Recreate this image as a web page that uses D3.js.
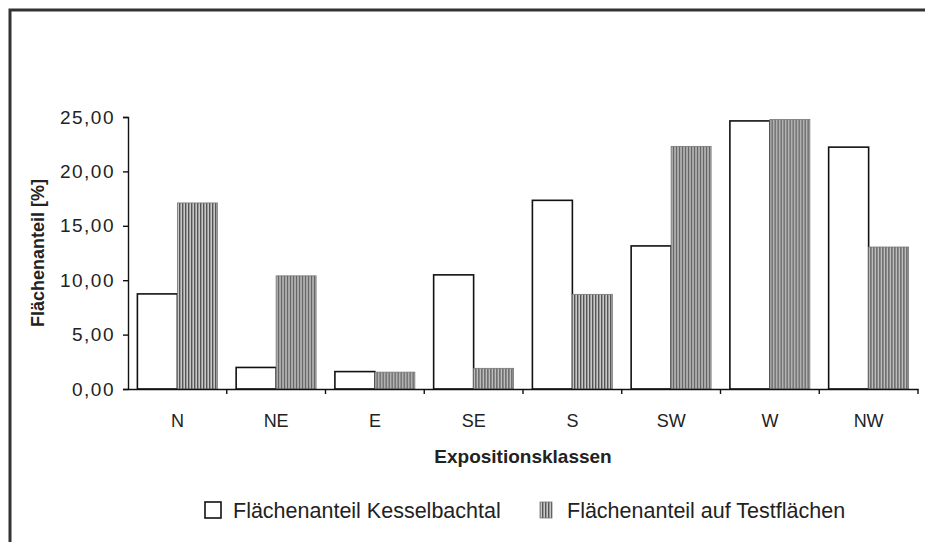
<!DOCTYPE html>
<html lang="de">
<head>
    <meta charset="UTF-8">
    <title>Flächenanteil nach Expositionsklassen</title>
    <script src="https://cdn.jsdelivr.net/npm/d3@7"></script>
    <style>
        body { margin: 0; background: #fff; }
        text { font-family: "Liberation Sans", Arial, sans-serif; fill: #222; }
    </style>
</head>
<body>
<svg width="925" height="542"></svg>

<script>

    // data
    var categories = ["N", "NE", "E", "SE", "S", "SW", "W", "NW"];
    var seriesNames = ["Flächenanteil Kesselbachtal", "Flächenanteil auf Testflächen"];
    var kesselbachtal = [8.74, 1.98, 1.6, 10.49, 17.34, 13.15, 24.64, 22.23];
    var testflaechen = [17.1, 10.4, 1.55, 1.9, 8.7, 22.3, 24.77, 13.05];
    var yTicks = [0, 5, 10, 15, 20, 25];

    var svg = d3.select("svg"),
        width = +svg.attr("width"),
        height = +svg.attr("height");

    var margin = {left: 128, right: 7, top: 117, bottom: 153};

    // hatch pattern for the second series
    var defs = svg.append("defs");
    var pat = defs.append("pattern")
        .attr("id", "hatch")
        .attr("patternUnits", "userSpaceOnUse")
        .attr("width", 3)
        .attr("height", 10);
    pat.append("rect").attr("width", 3).attr("height", 10).attr("fill", "#c8c8c8");
    pat.append("rect").attr("x", 0).attr("width", 1.4).attr("height", 10).attr("fill", "#555");

    // outer frame (cut off at right and bottom)
    svg.append("path")
        .attr("d", "M10," + height + "V10H" + width)
        .attr("fill", "none")
        .attr("stroke", "#333")
        .attr("stroke-width", 3);

    var x = d3.scaleBand()
        .domain(categories)
        .range([margin.left, width - margin.right])
        .padding(0);

    var x1 = d3.scaleBand()
        .domain([0, 1])
        .range([0, x.bandwidth()])
        .paddingInner(0)
        .paddingOuter(0.235);

    var y = d3.scaleLinear()
        .domain([0, 25])
        .range([height - margin.bottom, margin.top]);

    var fmt = function (d) {
        return d3.format(".2f")(d).replace(".", ",");
    };

    // bars
    var groups = svg.append("g")
        .selectAll("g")
        .data(categories)
        .enter().append("g")
        .attr("transform", function (d) { return "translate(" + x(d) + ",0)"; });

    groups.append("rect")
        .attr("x", x1(0))
        .attr("width", x1.bandwidth())
        .attr("y", function (d, i) { return y(kesselbachtal[i]); })
        .attr("height", function (d, i) { return y(0) - y(kesselbachtal[i]); })
        .attr("fill", "#fff")
        .attr("stroke", "#111")
        .attr("stroke-width", 1.6);

    groups.append("rect")
        .attr("x", x1(1))
        .attr("width", x1.bandwidth())
        .attr("y", function (d, i) { return y(testflaechen[i]); })
        .attr("height", function (d, i) { return y(0) - y(testflaechen[i]); })
        .attr("fill", "url(#hatch)")
        .attr("stroke", "#777")
        .attr("stroke-width", 0.8);

    // y axis
    var yAxis = svg.append("g")
        .attr("transform", "translate(" + margin.left + ",0)")
        .call(d3.axisLeft(y).tickValues(yTicks).tickFormat(fmt).tickSize(5).tickPadding(8));
    yAxis.selectAll("path, line").attr("stroke", "#111").attr("stroke-width", 1.4);
    yAxis.selectAll("text").attr("font-size", 19).attr("fill", "#222")
        .attr("letter-spacing", 1.5)
        .attr("font-family", "Liberation Sans, Arial, sans-serif");

    // x axis
    var xAxis = svg.append("g")
        .attr("transform", "translate(0," + y(0) + ")")
        .call(d3.axisBottom(x).tickSize(0).tickPadding(25));
    xAxis.select("path").attr("stroke", "#111").attr("stroke-width", 1.4);
    xAxis.selectAll("text").attr("font-size", 18).attr("fill", "#222")
        .attr("font-family", "Liberation Sans, Arial, sans-serif");

    // ticks between the categories
    xAxis.selectAll(".sep")
        .data(categories)
        .enter().append("line")
        .attr("class", "sep")
        .attr("x1", function (d) { return x(d) + x.bandwidth(); })
        .attr("x2", function (d) { return x(d) + x.bandwidth(); })
        .attr("y1", 0)
        .attr("y2", 5)
        .attr("stroke", "#111")
        .attr("stroke-width", 1.4);

    // axis titles
    svg.append("text")
        .attr("x", (x.range()[0] + x.range()[1]) / 2)
        .attr("y", 463)
        .attr("text-anchor", "middle")
        .attr("font-weight", "bold")
        .attr("font-size", 19)
        .text("Expositionsklassen");

    svg.append("text")
        .attr("transform", "translate(44," + (y(0) + y(25)) / 2 + ") rotate(-90)")
        .attr("text-anchor", "middle")
        .attr("font-weight", "bold")
        .attr("font-size", 18)
        .text("Flächenanteil [%]");

    // legend
    var legend = svg.append("g");
    var legX = [205, 539];
    var legend_items = legend.selectAll("g")
        .data(seriesNames)
        .enter().append("g")
        .attr("transform", function (d, i) { return "translate(" + legX[i] + ",502)"; });

    legend_items.append("rect")
        .attr("x", function (d, i) { return i ? 1 : 0; })
        .attr("width", function (d, i) { return i ? 12 : 16; })
        .attr("height", 16)
        .attr("fill", function (d, i) { return i ? "url(#hatch)" : "#fff"; })
        .attr("stroke", function (d, i) { return i ? "#777" : "#111"; })
        .attr("stroke-width", function (d, i) { return i ? 0.8 : 1.6; });

    legend_items.append("text")
        .attr("x", 28)
        .attr("y", 16)
        .attr("font-size", 21.5)
        .text(function (d) { return d; });

</script>

</body>
</html>
